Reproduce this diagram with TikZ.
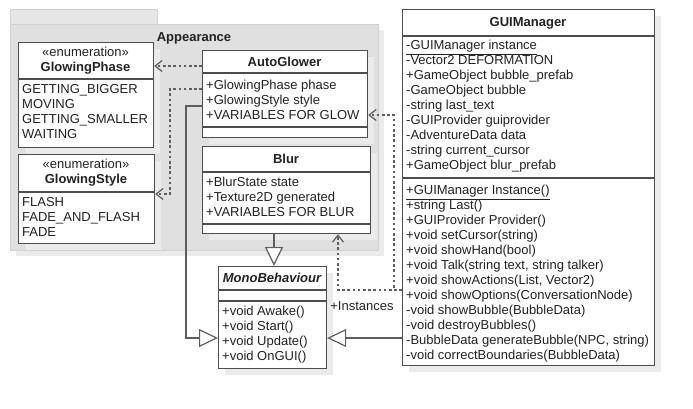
\documentclass[tikz,border=0pt]{standalone}
\usepackage{fontspec}
\setmainfont{Liberation Sans}
\usetikzlibrary{arrows.meta,calc,positioning}
\definecolor{umlInk}{HTML}{222222}
\definecolor{umlEdge}{HTML}{4D4D4D}
\definecolor{umlLink}{HTML}{5E5E5E}
\definecolor{umlPkg}{HTML}{E0E0E0}
\definecolor{umlPkgTab}{HTML}{E6E6E6}
\definecolor{umlPkgEdge}{HTML}{D0D0D0}
\definecolor{umlShadow}{HTML}{EBEBEB}
\newcommand{\umlfont}{\fontsize{13}{15}\selectfont}
\tikzset{
  uml package/.style={fill=umlPkg, draw=umlPkgEdge, line width=.8pt},
  uml shadow/.style={fill=umlShadow},
  uml class/.style={
    rectangle, draw=umlEdge, fill=white, line width=1.2pt,
    inner sep=0pt, anchor=north west,
    preaction={fill=umlShadow, draw=none, transform canvas={xshift=6pt, yshift=-6pt}}
  },
  uml sep/.style={draw=umlEdge, line width=1.2pt},
  uml title/.style={font=\umlfont\bfseries, text=umlInk, inner sep=0pt, anchor=base},
  uml stereo/.style={font=\umlfont, text=umlInk, inner sep=0pt, anchor=base},
  uml members/.style={font=\umlfont, text=umlInk, inner sep=0pt, anchor=north west, align=left},
  uml label/.style={font=\umlfont, text=umlInk, inner sep=0pt},
  uml extends/.style={
    draw=umlLink, line width=1.2pt,
    -{Triangle[open, length=19pt, width=18pt, fill=white]}
  },
  uml depends/.style={
    draw=umlLink, line width=1.2pt,
    dash pattern=on 2.6pt off 2.6pt,
    -{Straight Barb[length=7pt, width=11pt]}
  }
}

\begin{document}
\begin{tikzpicture}[x=1pt,y=-1pt]
  \useasboundingbox (0,0) rectangle (693,408);

  % package Appearance
  \fill[uml shadow] (16,30) rectangle (384,256);
  \path[uml package, fill=umlPkgTab] (10,9) rectangle (157,24);
  \path[uml package] (10,24) rectangle (378,250);
  \node[uml title] (appearance) at (194,41.7) {Appearance};

  % GlowingPhase
  \node[uml class, minimum width=135pt, minimum height=105pt] (phase) at (18,42) {};
  \draw[uml sep] (phase.west |- 0,79) -- (phase.east |- 0,79);
  \node[uml stereo] (phasestereo) at (85.5,56.7) {«enumeration»};
  \node[uml title] (phasetitle) at (85.5,71.7) {GlowingPhase};
  \node[uml members] (phaseitems) at (22,83.2)
    {\strut GETTING\_BIGGER\\MOVING\\GETTING\_SMALLER\\WAITING};

  % GlowingStyle
  \node[uml class, minimum width=136pt, minimum height=89pt] (style) at (18,154) {};
  \draw[uml sep] (style.west |- 0,192) -- (style.east |- 0,192);
  \node[uml stereo] (stylestereo) at (86,168.7) {«enumeration»};
  \node[uml title] (styletitle) at (86,183.7) {GlowingStyle};
  \node[uml members] (styleitems) at (22,196.2)
    {\strut FLASH\\FADE\_AND\_FLASH\\FADE};

  % AutoGlower
  \node[uml class, minimum width=165pt, minimum height=87pt] (autoglower) at (202,50) {};
  \draw[uml sep] (autoglower.west |- 0,73) -- (autoglower.east |- 0,73);
  \draw[uml sep] (autoglower.west |- 0,127) -- (autoglower.east |- 0,127);
  \node[uml title] (autoglowertitle) at (284.5,66.7) {AutoGlower};
  \node[uml members] (autoglowerattrs) at (206,79.2)
    {\strut +GlowingPhase phase\\+GlowingStyle style\\+VARIABLES FOR GLOW};

  % Blur
  \node[uml class, minimum width=168pt, minimum height=87pt] (blur) at (202,146) {};
  \draw[uml sep] (blur.west |- 0,172) -- (blur.east |- 0,172);
  \draw[uml sep] (blur.west |- 0,224) -- (blur.east |- 0,224);
  \node[uml title] (blurtitle) at (286,163.7) {Blur};
  \node[uml members] (blurattrs) at (206,175.7)
    {\strut +BlurState state\\+Texture2D generated\\+VARIABLES FOR BLUR};

  % MonoBehaviour
  \node[uml class, minimum width=108pt, minimum height=102pt] (mono) at (218,266) {};
  \draw[uml sep] (mono.west |- 0,290) -- (mono.east |- 0,290);
  \draw[uml sep] (mono.west |- 0,301) -- (mono.east |- 0,301);
  \node[uml title, font=\umlfont\bfseries\itshape] (monotitle) at (272,282.7) {MonoBehaviour};
  \node[uml members] (monomethods) at (222,305.2)
    {\strut +void Awake()\\+void Start()\\+void Update()\\+void OnGUI()};

  % GUIManager
  \node[uml class, minimum width=252pt, minimum height=356pt] (gui) at (402,9) {};
  \draw[uml sep] (gui.west |- 0,36) -- (gui.east |- 0,36);
  \draw[uml sep] (gui.west |- 0,178) -- (gui.east |- 0,178);
  \node[uml title] (guititle) at (528,26.2) {GUIManager};
  \node[uml members] (guiattrs) at (406,39.2)
    {\strut \underline{-GUIManager instance}\\-Vector2 DEFORMATION\\+GameObject bubble\_prefab\\
     -GameObject bubble\\-string last\_text\\-GUIProvider guiprovider\\-AdventureData data\\
     -string current\_cursor\\+GameObject blur\_prefab};
  \node[uml members] (guimethods) at (406,184.2)
    {\strut \underline{+GUIManager Instance()}\\+string Last()\\+GUIProvider Provider()\\
     +void setCursor(string)\\+void showHand(bool)\\+void Talk(string text, string talker)\\
     +void showActions(List, Vector2)\\+void showOptions(ConversationNode)\\
     -void showBubble(BubbleData)\\-void destroyBubbles()\\
     -BubbleData generateBubble(NPC, string)\\-void correctBoundaries(BubbleData)};

  % connectors
  \draw[uml depends] (autoglower.west |- 0,66) -- (phase.east |- 0,66);
  \draw[uml depends] (autoglower.west |- 0,89) -- ++(-32,0) |- (style.east |- 0,194);
  \draw[uml extends] (autoglower.west |- 0,106) -- ++(-16,0) |- (mono.west |- 0,338);
  \draw[uml extends] (blur.south -| 274,0) -- (mono.north -| 274,0);
  \draw[uml extends] (gui.west |- 0,338) -- (mono.east |- 0,338);
  \draw[uml depends] (gui.west |- 0,290) -| (blur.south -| 338,0);
  \draw[uml depends] (gui.west |- 0,290) -- ++(-8,0) |- (autoglower.east |- 0,115);
  \node[uml label] (instances) at (362,306) {+Instances};
\end{tikzpicture}
\end{document}
